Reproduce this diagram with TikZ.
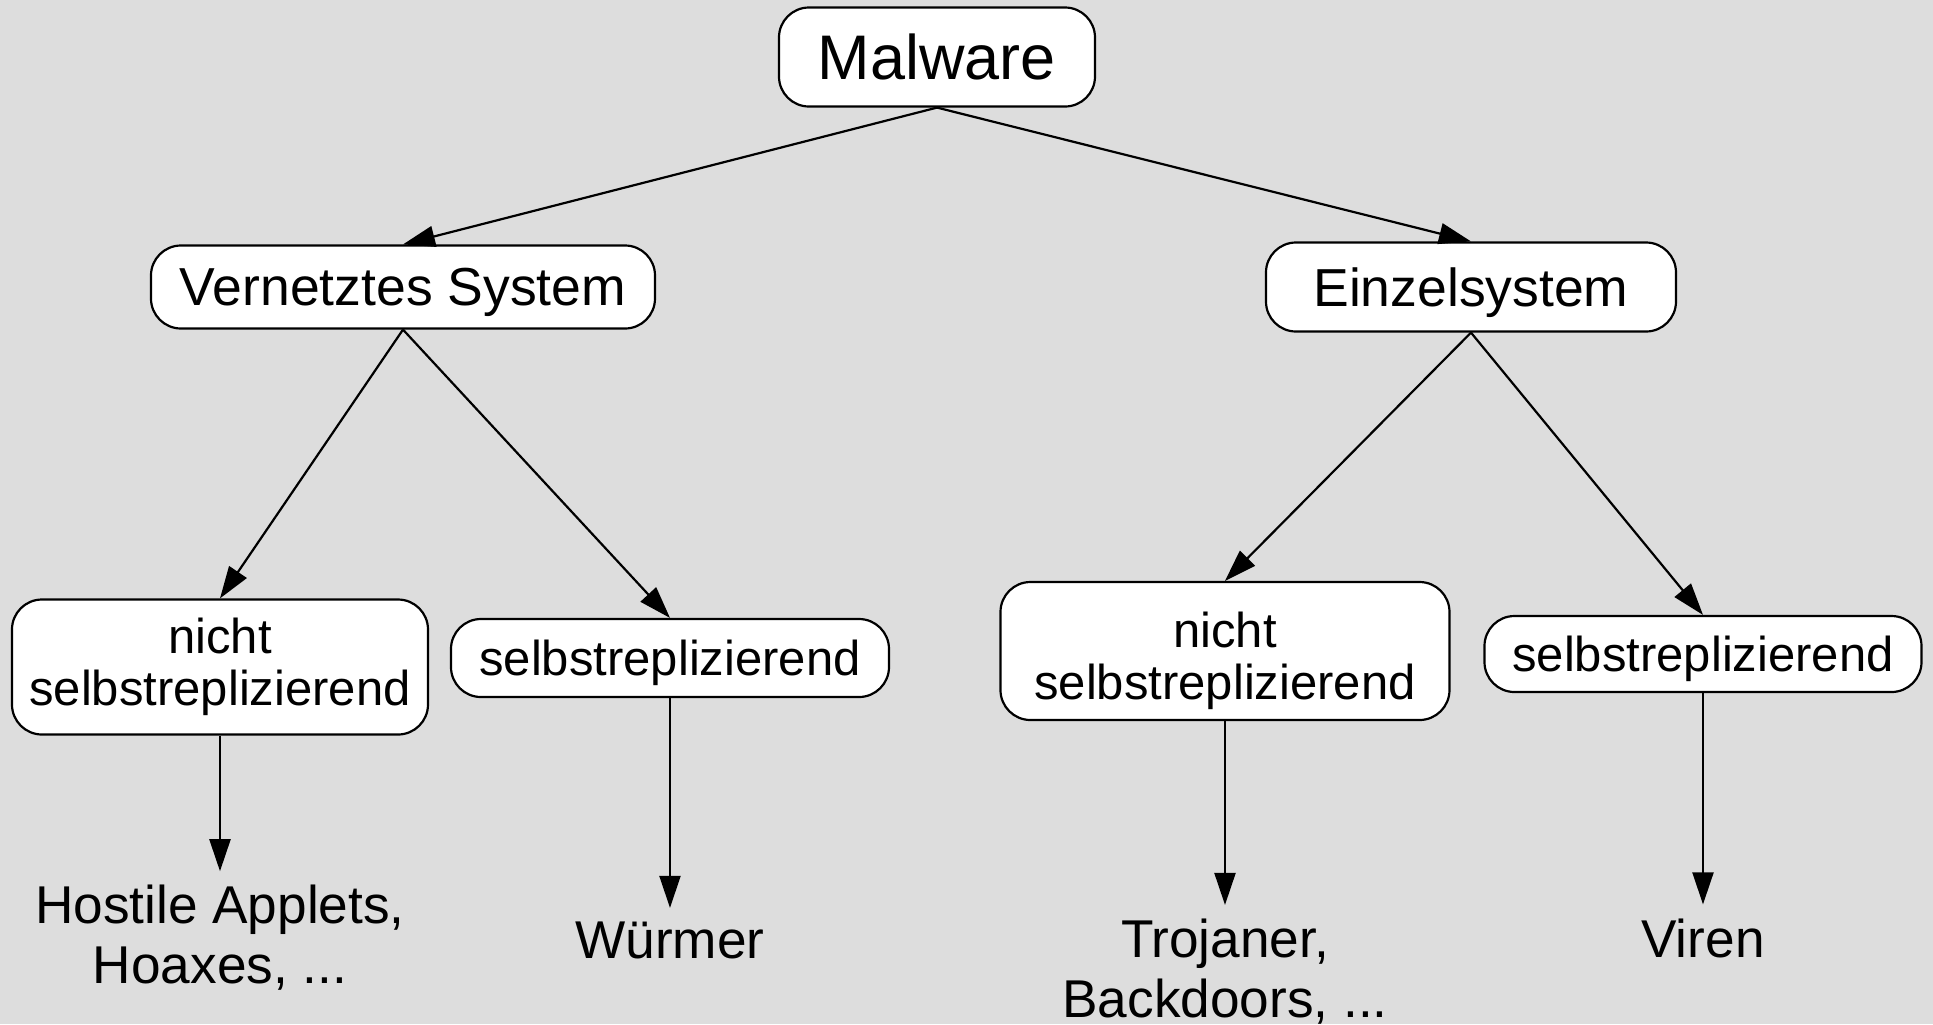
\documentclass[tikz,border=0pt]{standalone}
\usepackage{fontspec}
\setmainfont{Liberation Sans}
\usetikzlibrary{arrows.meta}
\definecolor{bggray}{HTML}{DDDDDD}
\begin{document}
\begin{tikzpicture}[node distance=115pt, auto, line width=1.1pt, >={Triangle[length=16pt,width=10.5pt]},
            box/.style={draw, fill=white, rounded corners=15pt, align=center, inner sep=2pt, text depth=0pt, font=\fontsize{24.5pt}{26pt}\selectfont},
            bigbox/.style={box, font=\fontsize{26.75pt}{28pt}\selectfont},
            leaf/.style={align=center, inner sep=6.5pt, font=\fontsize{26.6pt}{30pt}\selectfont}]
            % background and page size
            \fill[bggray] (-468.5pt,28.5pt) rectangle (498pt,-483.5pt);
            \useasboundingbox (-468.5pt,28.5pt) rectangle (498pt,-483.5pt);
            % boxes
            \node[box, minimum width=158pt, minimum height=49.5pt, font=\fontsize{31.5pt}{34pt}\selectfont](M) {Malware};
            \node[bigbox, minimum width=252pt, minimum height=41.5pt](V) [below of=M, xshift=-267pt] {Vernetztes System};
            \node[bigbox, minimum width=205pt, minimum height=44.5pt](E) [below of=M, xshift=267pt] {Einzelsystem};
            \node[box, minimum width=208pt, minimum height=67.5pt, text depth=5pt](VN) [below of=V, node distance=190pt, xshift=-91.5pt] {nicht\\selbstreplizierend};
            \node[box, minimum width=219pt, minimum height=39pt](VS) [below of=V, node distance=185.5pt, xshift=133.5pt] {selbstreplizierend};
            \node[box, minimum width=224.5pt, minimum height=69pt](EN) [below of=E, node distance=182pt, xshift=-123pt] {\rule{0pt}{22pt}nicht\\selbstreplizierend};
            \node[box, minimum width=218.5pt, minimum height=38pt](ES) [below of=E, node distance=183.5pt, xshift=116pt] {selbstreplizierend};
            % leaves
            \node[leaf](HA) [below of=VN, node distance=135.5pt] {Hostile Applets,\\Hoaxes, ...};
            \node[leaf](W) [below of=VS, node distance=141.25pt] {Würmer};
            \node[leaf](T) [below of=EN, node distance=160.35pt] {Trojaner,\\Backdoors, ...};
            \node[leaf](Vi) [below of=ES, node distance=142pt] {Viren};
            % arrows
            \draw[->](M.south) to (V.north);
            \draw[->](M.south) to (E.north);
            \draw[->](V.south) to (VN.north);
            \draw[->](V.south) to (VS.north);
            \draw[->](E.south) to (EN.north);
            \draw[->](E.south) to (ES.north);
            \draw[->](VN.south) to (HA.north);
            \draw[->](VS.south) to (W.north);
            \draw[->](EN.south) to (T.north);
            \draw[->](ES.south) to (Vi.north);
\end{tikzpicture}
\end{document}
